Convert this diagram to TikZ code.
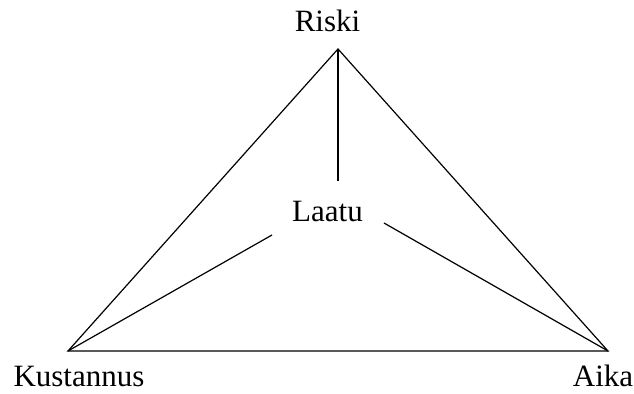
\documentclass[tikz,border=0pt]{standalone}
\usepackage{fontspec}
\setmainfont{Liberation Serif}
\usetikzlibrary{calc, positioning}

\begin{document}
\begin{tikzpicture}[x=0.5pt,y=-0.5pt]
\tikzset{label/.style={anchor=base, inner sep=0pt, font=\fontsize{15.5}{18}\selectfont}}
\useasboundingbox (0,0) rectangle (634,394);
\coordinate (R) at (338,49);
\coordinate (K) at (68,351);
\coordinate (A) at (608,351);
\coordinate (M) at (338,181);
\coordinate (ML) at (272,235);
\coordinate (MR) at (384,223);

\draw[semithick] (K) -- (R) -- (A) -- cycle;
\draw[semithick] (R) -- (M);
\draw[semithick] (K) -- (ML);
\draw[semithick] (A) -- (MR);

\node[label] (riski) at (327.5,32) {Riski};
\node[label] (laatu) at (327.5,222) {Laatu};
\node[label] (kustannus) at (79,387) {Kustannus};
\node[label] (aika) at (603,387) {Aika};
\end{tikzpicture}
\end{document}
